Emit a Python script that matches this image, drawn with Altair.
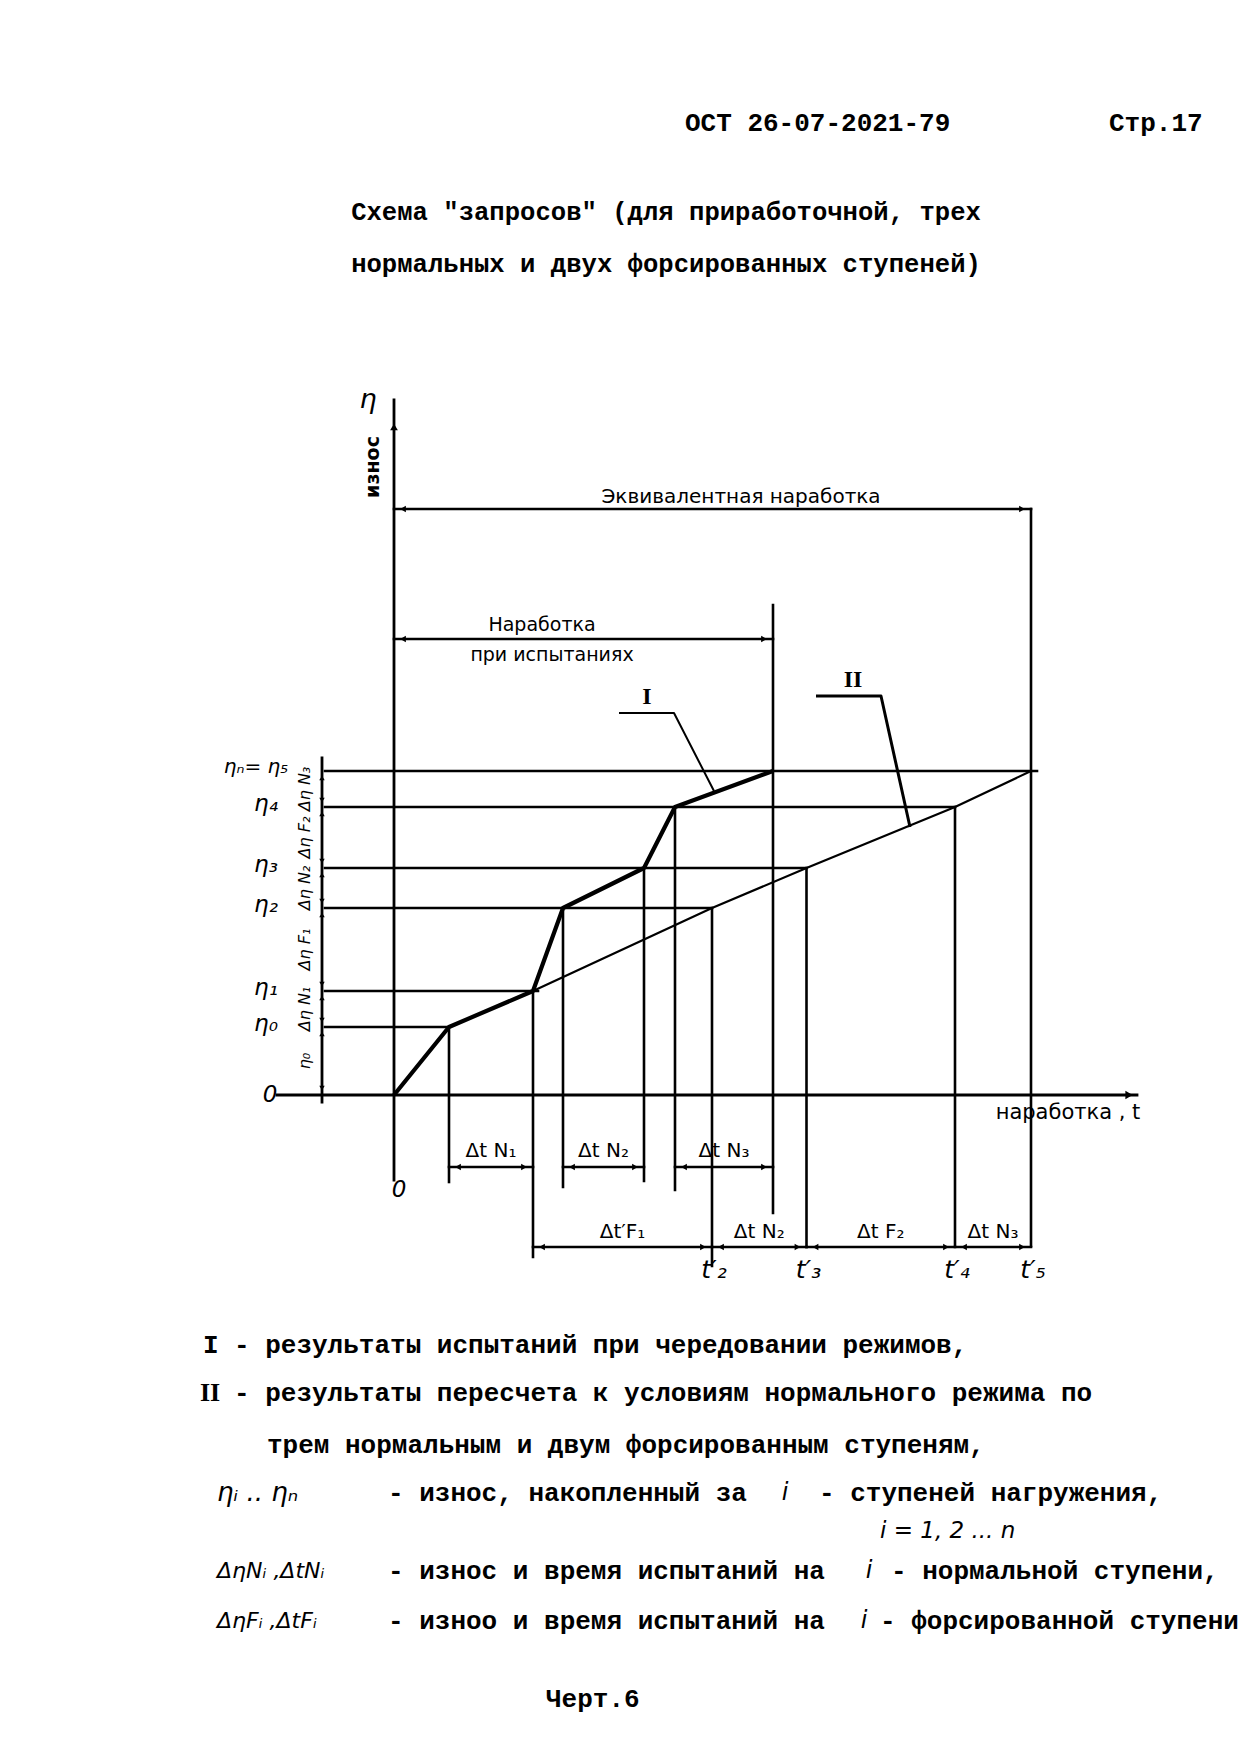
import altair as alt
import pandas as pd

# ---------------- data (t = time units, e = wear units) ----------------
t_curve_I = [0, 55, 139, 169, 250, 281, 379]
eta_curve_I = [0, 68, 104, 187, 227, 288, 324]

t_curve_II = [139, 318, 412.5, 561, 637]
eta_curve_II = [104, 187, 227, 288, 324]

level_names = ["η₀", "η₁", "η₂", "η₃", "η₄", "ηₙ= η₅"]
eta_levels = [68, 104, 187, 227, 288, 324]
level_end_t = [55, 144, 318, 412.5, 561, 643]

delta_names = ["η₀", "Δη N₁", "Δη F₁", "Δη N₂", "Δη F₂", "Δη N₃"]

vert_t = [55, 139, 169, 250, 281, 318, 379, 412.5, 561, 637]
vert_top = [68, 104, 187, 227, 288, 187, 490, 227, 288, 586]
vert_bottom = [-87, -162, -92, -86, -95, -171, -118, -152, -151, -151]

row1_start = [55, 169, 281]
row1_end = [139, 250, 379]
row1_labels = ["Δt N₁", "Δt N₂", "Δt N₃"]

row2_start = [139, 318, 412.5, 561]
row2_end = [318, 412.5, 561, 637]
row2_labels = ["Δt′F₁", "Δt N₂", "Δt F₂", "Δt N₃"]

tprime_labels = ["t′₂", "t′₃", "t′₄", "t′₅"]
tprime_values = [318, 412.5, 561, 637]

equiv_span = [0, 637]
test_span = [0, 379]

leader_I_t = [225, 280, 320]
leader_I_e = [382, 382, 304]
leader_II_t = [422, 487, 516]
leader_II_e = [399, 399, 268]

header_texts = ["ОСТ 26-07-2021-79", "Стр.17"]
title_lines = ["Схема \"запросов\" (для приработочной, трех",
               "нормальных и двух форсированных ступеней)"]
legend_marks = ["I", "II"]
legend_lines = [
    "- результаты испытаний при чередовании режимов,",
    "- результаты пересчета к условиям нормального режима по",
    "трем нормальным и двум форсированным ступеням,",
]
legend_defs = ["- износ, накопленный за", "- износ и время испытаний на", "- изноо и время испытаний на"]
legend_tails = ["- ступеней нагружения,", "- нормальной ступени,", "- форсированной ступени"]
legend_symbols = ["ηᵢ .. ηₙ", "ΔηNᵢ ,ΔtNᵢ", "ΔηFᵢ ,ΔtFᵢ"]
legend_symbol_sizes = [26, 22, 22]
footer = "Черт.6"

# ---------------- frame ----------------
T_MIN, T_MAX = -386, 856
E_MAX = 1087
H = 1725
E_MIN = E_MAX - H
W = T_MAX - T_MIN

xs = alt.Scale(domain=[T_MIN, T_MAX], nice=False, zero=False)
ys = alt.Scale(domain=[E_MIN, E_MAX], nice=False, zero=False)


def X():
    return alt.X("t:Q", scale=xs, axis=None)


def Y():
    return alt.Y("e:Q", scale=ys, axis=None)


def seg_layer(rows, width):
    df = pd.DataFrame(rows, columns=["t", "e", "t2", "e2"])
    return alt.Chart(df).mark_rule(color="black", strokeWidth=width, strokeCap="square").encode(
        x=X(), y=Y(), x2=alt.X2("t2:Q"), y2=alt.Y2("e2:Q"))


def poly_layer(ts, es, width):
    df = pd.DataFrame({"t": ts, "e": es, "i": list(range(len(ts)))})
    return alt.Chart(df).mark_line(color="black", strokeWidth=width, strokeJoin="round").encode(
        x=X(), y=Y(), order="i:Q")


def text_layer(rows, font, size, weight="normal", style="normal", align="center", angle=0):
    df = pd.DataFrame(rows, columns=["label", "t", "e"])
    return alt.Chart(df).mark_text(font=font, fontSize=size, fontWeight=weight, fontStyle=style,
                                   align=align, baseline="middle", angle=angle, color="black").encode(
        x=X(), y=Y(), text="label:N")


def arrow_layer(rows, shape, size):
    df = pd.DataFrame(rows, columns=["t", "e"])
    return alt.Chart(df).mark_point(shape=shape, filled=True, size=size, color="black", opacity=1,
                                    strokeWidth=0).encode(x=X(), y=Y())


layers = []

# axes
DIM_T = -72
layers.append(seg_layer([[-117, 0, 743, 0], [0, -85, 0, 695], [DIM_T, -7, DIM_T, 337]], 2.8))
layers.append(arrow_layer([[735, 0]], "triangle-right", 70))
layers.append(arrow_layer([[0, 668]], "triangle-up", 60))

# level lines
layers.append(seg_layer([[-69, e, te, e] for e, te in zip(eta_levels, level_end_t)], 2.6))

# vertical lines
layers.append(seg_layer([[t, b, t, tp] for t, tp, b in zip(vert_t, vert_top, vert_bottom)], 2.6))

# curves
layers.append(poly_layer(t_curve_I, eta_curve_I, 4.2))
layers.append(poly_layer(t_curve_II, eta_curve_II, 2.2))

# leaders
layers.append(poly_layer(leader_I_t, leader_I_e, 2))
layers.append(poly_layer(leader_II_t, leader_II_e, 3))

# dimension lines
E_EQ, E_TEST, E_ROW1, E_ROW2 = 586, 456, -72, -152
dims = [[equiv_span[0], E_EQ, equiv_span[1], E_EQ], [test_span[0], E_TEST, test_span[1], E_TEST]]
dims += [[a, E_ROW1, b, E_ROW1] for a, b in zip(row1_start, row1_end)]
dims += [[a, E_ROW2, b, E_ROW2] for a, b in zip(row2_start, row2_end)]
layers.append(seg_layer(dims, 2.6))
left_arrows = [[equiv_span[0] + 9, E_EQ], [test_span[0] + 9, E_TEST]]
right_arrows = [[equiv_span[1] - 9, E_EQ], [test_span[1] - 9, E_TEST]]
left_arrows += [[a + 9, E_ROW1] for a in row1_start] + [[a + 9, E_ROW2] for a in row2_start]
right_arrows += [[b - 9, E_ROW1] for b in row1_end] + [[b - 9, E_ROW2] for b in row2_end]
layers.append(arrow_layer(left_arrows, "triangle-left", 45))
layers.append(arrow_layer(right_arrows, "triangle-right", 45))
lv = [0] + eta_levels
layers.append(arrow_layer([[DIM_T, e - 7] for e in eta_levels], "triangle-up", 30))
layers.append(arrow_layer([[DIM_T, e + 7] for e in lv[:-1]], "triangle-down", 30))

# diagram labels (handwritten style)
HW = "DejaVu Sans"
layers.append(text_layer([["η", -26, 695]], HW, 27, style="italic"))
layers.append(text_layer([["износ", -21, 628]], HW, 19, weight="bold", angle=270))
layers.append(text_layer([["Эквивалентная  наработка", 347, 598]], HW, 20))
layers.append(text_layer([["Наработка", 148, 470], ["при    испытаниях", 158, 440]], HW, 19))
layers.append(text_layer([["наработка , t", 674, -18]], HW, 21))
layers.append(text_layer([["0", 5, -95], ["0", -124, 0]], HW, 23, style="italic"))
layers.append(text_layer([[n, (a + b) / 2, E_ROW1 + 16]
                          for n, a, b in zip(row1_labels, row1_start, row1_end)], HW, 20))
layers.append(text_layer([[n, (a + b) / 2, E_ROW2 + 15]
                          for n, a, b in zip(row2_labels, row2_start, row2_end)], HW, 20))
layers.append(text_layer([[n, v + 2, E_ROW2 - 23] for n, v in zip(tprime_labels, tprime_values)], HW, 25,
                         style="italic"))
layers.append(text_layer([[n, -128, e + 3] for n, e in zip(level_names[:-1], eta_levels[:-1])], HW, 23,
                         style="italic"))
layers.append(text_layer([[level_names[-1], -138, eta_levels[-1] + 4]], HW, 20, style="italic"))
layers.append(text_layer([[n, -89, (lv[i] + lv[i + 1]) / 2] for i, n in enumerate(delta_names)], HW, 16,
                         style="italic", angle=270))
layers.append(text_layer([["I", 253, 398], ["II", 459, 415]], "Liberation Serif", 24, weight="bold"))

# typed page text
TY = "Liberation Mono"
layers.append(text_layer([[header_texts[0], 291, 972], [header_texts[1], 715, 972]], TY, 26,
                         weight="bold", align="left"))
layers.append(text_layer([[title_lines[0], 272, 883], [title_lines[1], 272, 831]], TY, 25.6, weight="bold"))
layers.append(text_layer([[legend_marks[0], -191, -250]], TY, 26, weight="bold", align="left"))
layers.append(text_layer([[legend_marks[1], -194, -298]], "Liberation Serif", 26, weight="bold", align="left"))
layers.append(text_layer([[legend_lines[0], -160, -250], [legend_lines[1], -160, -298],
                          [legend_lines[2], -127, -350]], TY, 26, weight="bold", align="left"))
row_e = [-398, -476, -526]
i_pos = [391, 475, 470]
tail_pos = [425, 497, 486]
layers.append(text_layer([[d, -6, e] for d, e in zip(legend_defs, row_e)], TY, 26, weight="bold",
                         align="left"))
layers.append(text_layer([[tl, tp, e] for tl, tp, e in zip(legend_tails, tail_pos, row_e)], TY, 26,
                         weight="bold", align="left"))
layers.append(text_layer([["i", ip, e] for ip, e in zip(i_pos, row_e)], HW, 24, style="italic"))
for s, e, sz in zip(legend_symbols, row_e, legend_symbol_sizes):
    layers.append(text_layer([[s, -177, e]], HW, sz, style="italic", align="left"))
layers.append(text_layer([["i = 1, 2 ... n", 486, -436]], HW, 23, style="italic", align="left"))
layers.append(text_layer([[footer, 152, -604]], TY, 26, weight="bold", align="left"))

chart = alt.layer(*layers).properties(
    width=W, height=H, padding=0, autosize=alt.AutoSizeParams(type="none")
).configure(background="white", view=alt.ViewConfig(stroke=None))

chart.save("out.html", embed_options={"renderer": "svg", "actions": False})
